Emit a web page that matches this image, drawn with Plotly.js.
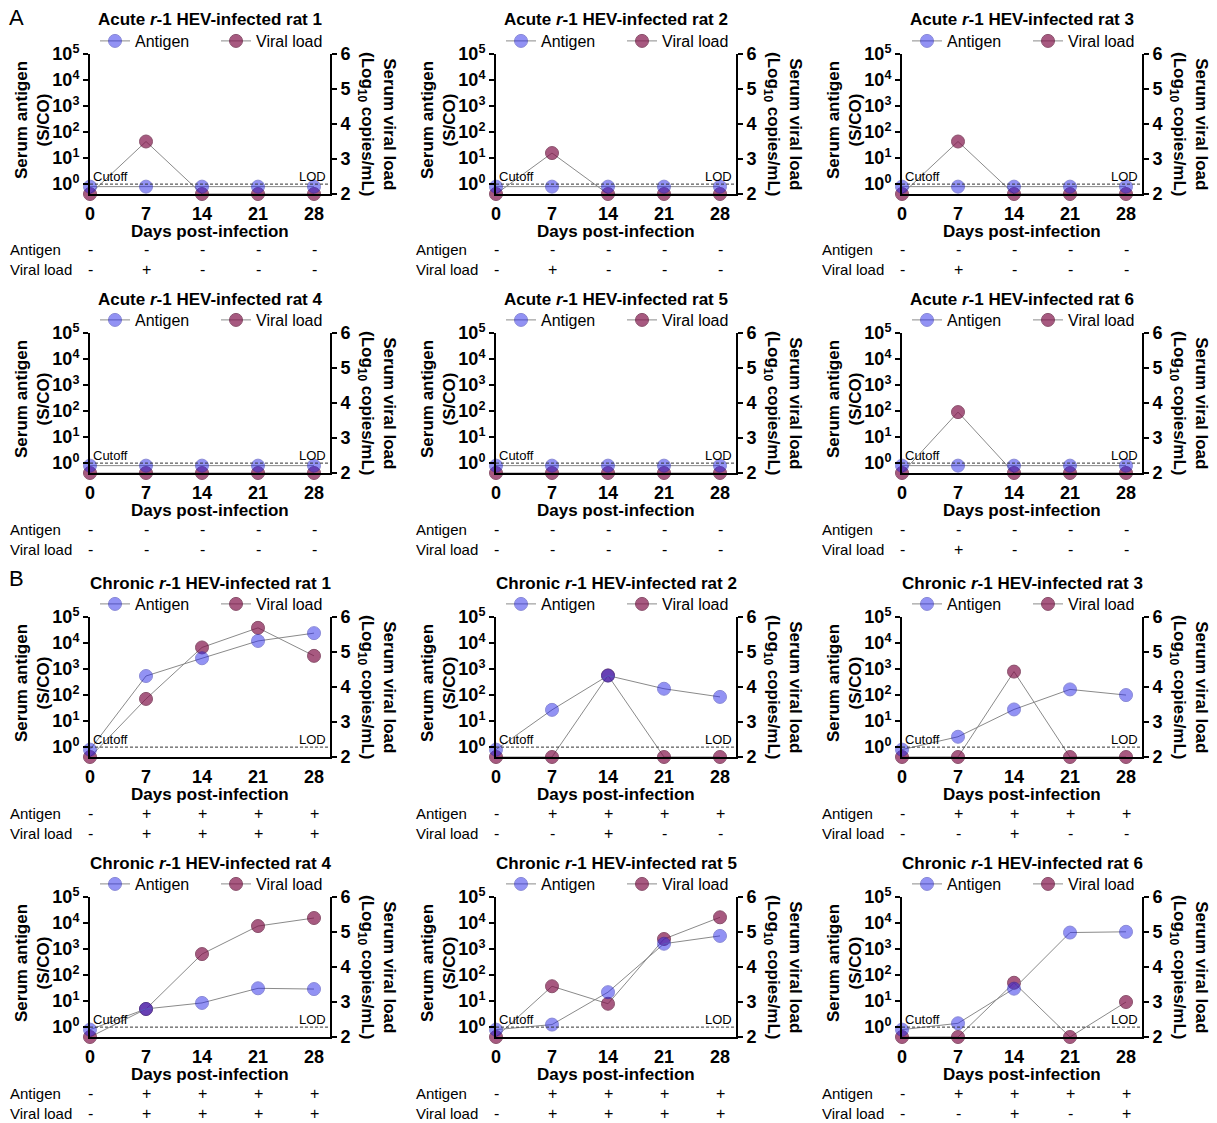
<!DOCTYPE html>
<html><head><meta charset="utf-8">
<script src="https://cdn.plot.ly/plotly-3.0.1.min.js"></script>
<style>body{margin:0;padding:0;background:#fff}#chart{width:1217px;height:1123px}</style>
</head><body><div id="chart"></div>
<script>
// ---------- DATA ----------
const days = [0, 7, 14, 21, 28];
const dayTickText = ['0', '7', '14', '21', '28'];
const antigenTickVals = [1, 10, 100, 1000, 10000, 100000];
const antigenTickText = ['10<sup>0</sup>', '10<sup>1</sup>', '10<sup>2</sup>', '10<sup>3</sup>', '10<sup>4</sup>', '10<sup>5</sup>'];
const viralTickVals = [2, 3, 4, 5, 6];
const cutoffValue = 1;

const panelTitles = [
  'Acute <i>r</i>-1 HEV-infected rat 1', 'Acute <i>r</i>-1 HEV-infected rat 2', 'Acute <i>r</i>-1 HEV-infected rat 3',
  'Acute <i>r</i>-1 HEV-infected rat 4', 'Acute <i>r</i>-1 HEV-infected rat 5', 'Acute <i>r</i>-1 HEV-infected rat 6',
  'Chronic <i>r</i>-1 HEV-infected rat 1', 'Chronic <i>r</i>-1 HEV-infected rat 2', 'Chronic <i>r</i>-1 HEV-infected rat 3',
  'Chronic <i>r</i>-1 HEV-infected rat 4', 'Chronic <i>r</i>-1 HEV-infected rat 5', 'Chronic <i>r</i>-1 HEV-infected rat 6'
];

// Serum antigen (S/CO)
const antigenAcute1 = [0.8, 0.8, 0.8, 0.8, 0.8];
const antigenAcute2 = [0.8, 0.8, 0.8, 0.8, 0.8];
const antigenAcute3 = [0.8, 0.8, 0.8, 0.8, 0.8];
const antigenAcute4 = [0.8, 0.8, 0.8, 0.8, 0.8];
const antigenAcute5 = [0.8, 0.8, 0.8, 0.8, 0.8];
const antigenAcute6 = [0.8, 0.8, 0.8, 0.8, 0.8];
const antigenChronic1 = [0.8, 540, 2600, 12000, 24000];
const antigenChronic2 = [0.8, 27, 560, 175, 85];
const antigenChronic3 = [0.8, 2.5, 28, 165, 100];
const antigenChronic4 = [0.8, 5, 8.5, 31, 29];
const antigenChronic5 = [0.8, 1.25, 22, 1600, 3200];
const antigenChronic6 = [0.8, 1.4, 30, 4300, 4600];

// Serum viral load (log10 copies/mL)
const viralAcute1 = [2, 3.5, 2, 2, 2];
const viralAcute2 = [2, 3.17, 2, 2, 2];
const viralAcute3 = [2, 3.5, 2, 2, 2];
const viralAcute4 = [2, 2, 2, 2, 2];
const viralAcute5 = [2, 2, 2, 2, 2];
const viralAcute6 = [2, 3.74, 2, 2, 2];
const viralChronic1 = [2, 3.66, 5.13, 5.69, 4.89];
const viralChronic2 = [2, 2, 4.33, 2, 2];
const viralChronic3 = [2, 2, 4.44, 2, 2];
const viralChronic4 = [2, 2.8, 4.37, 5.17, 5.4];
const viralChronic5 = [2, 3.45, 2.95, 4.8, 5.42];
const viralChronic6 = [2, 2, 3.55, 2, 3.0];

// Table calls
const antigenCallsAcute = ['-', '-', '-', '-', '-'];
const antigenCallsChronic = ['-', '+', '+', '+', '+'];
const viralCalls1 = ['-', '+', '-', '-', '-'];
const viralCalls2 = ['-', '+', '-', '-', '-'];
const viralCalls3 = ['-', '+', '-', '-', '-'];
const viralCalls4 = ['-', '-', '-', '-', '-'];
const viralCalls5 = ['-', '-', '-', '-', '-'];
const viralCalls6 = ['-', '+', '-', '-', '-'];
const viralCalls7 = ['-', '+', '+', '+', '+'];
const viralCalls8 = ['-', '-', '+', '-', '-'];
const viralCalls9 = ['-', '-', '+', '-', '-'];
const viralCalls10 = ['-', '+', '+', '+', '+'];
const viralCalls11 = ['-', '+', '+', '+', '+'];
const viralCalls12 = ['-', '-', '+', '-', '+'];

const antigenSeries = [antigenAcute1, antigenAcute2, antigenAcute3, antigenAcute4, antigenAcute5, antigenAcute6,
  antigenChronic1, antigenChronic2, antigenChronic3, antigenChronic4, antigenChronic5, antigenChronic6];
const viralSeries = [viralAcute1, viralAcute2, viralAcute3, viralAcute4, viralAcute5, viralAcute6,
  viralChronic1, viralChronic2, viralChronic3, viralChronic4, viralChronic5, viralChronic6];
const antigenCalls = [antigenCallsAcute, antigenCallsAcute, antigenCallsAcute, antigenCallsAcute, antigenCallsAcute, antigenCallsAcute,
  antigenCallsChronic, antigenCallsChronic, antigenCallsChronic, antigenCallsChronic, antigenCallsChronic, antigenCallsChronic];
const viralCalls = [viralCalls1, viralCalls2, viralCalls3, viralCalls4, viralCalls5, viralCalls6,
  viralCalls7, viralCalls8, viralCalls9, viralCalls10, viralCalls11, viralCalls12];

// ---------- LAYOUT ----------
const W = 1217, H = 1123;
const FONT = 'Liberation Sans, Arial, Helvetica, sans-serif';
const colLeft = [90, 496, 902];
const plotW = 240;
const rowTop = [54, 333, 617, 897];
const plotH = 140;
const X = px => px / W;
const Y = py => 1 - py / H;

const data = [];
const layout = {
  width: W, height: H,
  margin: {l: 0, r: 0, t: 0, b: 0},
  paper_bgcolor: '#fff', plot_bgcolor: 'rgba(0,0,0,0)',
  showlegend: true,
  font: {family: FONT, color: '#000'},
  annotations: []
};

const antigenColor = '#2828eb';
const viralColor = '#82144b';
const tickFont = {family: FONT, size: 18, color: '#000', weight: 'bold'};

for (let i = 0; i < 12; i++) {
  const row = Math.floor(i / 3), col = i % 3;
  const l = colLeft[col], t = rowTop[row];
  const n = i + 1;
  const xId = 'x' + n;
  const yViral = 'y' + (2 * i + 1);   // base (right)
  const yAnt = 'y' + (2 * i + 2);     // overlaying (left, log)
  const xName = 'xaxis' + n;
  const yViralName = 'yaxis' + (2 * i + 1);
  const yAntName = 'yaxis' + (2 * i + 2);
  const legId = n === 1 ? 'legend' : 'legend' + n;

  layout[xName] = {
    domain: [X(l), X(l + plotW)], range: [0, 30], anchor: yViral,
    tickmode: 'array', tickvals: days, ticktext: dayTickText,
    ticks: 'outside', ticklen: 2, tickcolor: 'rgba(0,0,0,0)',
    showline: true, linewidth: 2, linecolor: '#000', showgrid: false, zeroline: false,
    tickfont: tickFont, fixedrange: true
  };
  layout[yViralName] = {
    domain: [Y(t + plotH), Y(t)], range: [2, 6], anchor: xId, side: 'right',
    tickmode: 'array', tickvals: viralTickVals,
    ticks: 'outside', ticklen: 5, tickwidth: 2, tickcolor: '#000',
    showline: true, linewidth: 2, linecolor: '#000', showgrid: false, zeroline: false,
    tickfont: tickFont, fixedrange: true
  };
  layout[yAntName] = {
    overlaying: yViral, type: 'log', range: [-0.38, 5], anchor: xId, side: 'left',
    tickmode: 'array', tickvals: antigenTickVals, ticktext: antigenTickText,
    ticks: 'outside', ticklen: 5, tickwidth: 2, tickcolor: '#000',
    showline: true, linewidth: 2, linecolor: '#000', showgrid: false, zeroline: false,
    tickfont: tickFont, fixedrange: true
  };

  layout[legId] = {
    orientation: 'h', x: X(l + plotW / 2 + 6), xanchor: 'center', y: Y(t - 13), yanchor: 'middle',
    font: {family: FONT, size: 16, color: '#000'}, bgcolor: 'rgba(0,0,0,0)',
    traceorder: 'normal', itemclick: false, itemdoubleclick: false, entrywidth: 76
  };

  // Antigen (left log axis, drawn on top layer)
  data.push({
    type: 'scatter', mode: 'lines+markers', name: 'Antigen', legend: legId,
    x: days, y: antigenSeries[i], xaxis: xId, yaxis: yAnt, cliponaxis: false,
    line: {color: '#8a8a8a', width: 1},
    marker: {size: 13, color: antigenColor, opacity: 0.5, line: {color: '#1818b0', width: 1}}
  });
  // Viral load (right linear axis)
  data.push({
    type: 'scatter', mode: 'lines+markers', name: 'Viral load', legend: legId,
    x: days, y: viralSeries[i], xaxis: xId, yaxis: yViral, cliponaxis: false,
    line: {color: '#8a8a8a', width: 1},
    marker: {size: 13, color: viralColor, opacity: 0.7, line: {color: '#5a0a30', width: 1}}
  });
  // Cutoff / LOD dashed line
  data.push({
    type: 'scatter', mode: 'lines', showlegend: false, hoverinfo: 'skip',
    x: [0, 30], y: [cutoffValue, cutoffValue], xaxis: xId, yaxis: yAnt,
    line: {color: '#333', width: 1, dash: '3px,2px'}
  });

  const A = layout.annotations;
  // Panel title
  A.push({xref: 'paper', yref: 'paper', x: X(l + plotW / 2), y: Y(t - 34), xanchor: 'center', yanchor: 'middle',
    text: '<b>' + panelTitles[i] + '</b>', showarrow: false, font: {family: FONT, size: 17, color: '#000'}});
  // Left axis title
  A.push({xref: 'paper', yref: 'paper', x: X(l - 58), y: Y(t + 66), xanchor: 'center', yanchor: 'middle',
    text: '<b>Serum antigen<br>(S/CO)</b>', textangle: -90, showarrow: false,
    font: {family: FONT, size: 17, color: '#000'}});
  // Right axis title
  A.push({xref: 'paper', yref: 'paper', x: X(l + plotW + 47), y: Y(t + 70), xanchor: 'center', yanchor: 'middle',
    text: '<b>Serum viral load<br>(Log<sub>10</sub> copies/mL)</b>', textangle: 90, showarrow: false,
    font: {family: FONT, size: 17, color: '#000'}});
  // X axis title
  A.push({xref: 'paper', yref: 'paper', x: X(l + plotW / 2), y: Y(t + plotH + 37), xanchor: 'center', yanchor: 'middle',
    text: '<b>Days post-infection</b>', showarrow: false, font: {family: FONT, size: 17, color: '#000'}});
  // Cutoff / LOD labels
  A.push({xref: xId, yref: yAnt, x: 0, y: Math.log10(cutoffValue), xanchor: 'left', yanchor: 'bottom', xshift: 1, yshift: -2,
    text: 'Cutoff', showarrow: false, font: {family: FONT, size: 13, color: '#000'}});
  A.push({xref: xId, yref: yAnt, x: 30, y: Math.log10(cutoffValue), xanchor: 'right', yanchor: 'bottom', xshift: -2, yshift: -2,
    text: 'LOD', showarrow: false, font: {family: FONT, size: 13, color: '#000'}});
  // Table
  const rowA = t + plotH + 56, rowV = t + plotH + 76;
  A.push({xref: 'paper', yref: 'paper', x: X(l - 82), y: Y(rowA), xanchor: 'left', yanchor: 'middle',
    text: 'Antigen', showarrow: false, font: {family: FONT, size: 15, color: '#000'}});
  A.push({xref: 'paper', yref: 'paper', x: X(l - 82), y: Y(rowV), xanchor: 'left', yanchor: 'middle',
    text: 'Viral load', showarrow: false, font: {family: FONT, size: 15, color: '#000'}});
  for (let k = 0; k < days.length; k++) {
    A.push({xref: xId, yref: 'paper', x: days[k], y: Y(rowA), xanchor: 'center', yanchor: 'middle',
      text: antigenCalls[i][k], showarrow: false, font: {family: FONT, size: 16, color: '#000'}});
    A.push({xref: xId, yref: 'paper', x: days[k], y: Y(rowV), xanchor: 'center', yanchor: 'middle',
      text: viralCalls[i][k], showarrow: false, font: {family: FONT, size: 16, color: '#000'}});
  }
}
layout.annotations.push({xref: 'paper', yref: 'paper', x: X(7), y: Y(18), xanchor: 'left', yanchor: 'middle',
  text: 'A', showarrow: false, font: {family: FONT, size: 22, color: '#000'}});
layout.annotations.push({xref: 'paper', yref: 'paper', x: X(7), y: Y(578), xanchor: 'left', yanchor: 'middle',
  text: 'B', showarrow: false, font: {family: FONT, size: 22, color: '#000'}});

Plotly.newPlot('chart', data, layout, {staticPlot: true, displayModeBar: false});
</script>
</body></html>
